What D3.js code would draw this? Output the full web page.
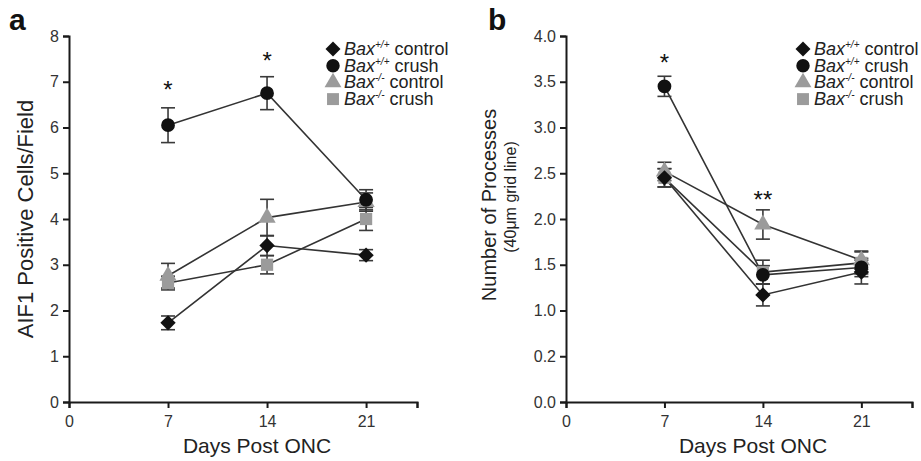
<!DOCTYPE html>
<html>
<head>
<meta charset="utf-8">
<script src="https://cdn.jsdelivr.net/npm/d3@7"></script>
<style>
  body { margin: 0; background: #fff; }
  svg { font-family: "Liberation Sans", Arial, sans-serif; }
</style>
</head>
<body>
<svg id="chart" width="921" height="461"></svg>
<script>
// days post ONC
const days = [7, 14, 21];
const xTicks = [0, 7, 14, 21];

// series names / legend
const seriesKeys = ["wtControl", "wtCrush", "koControl", "koCrush"];
const seriesSup = ["+/+", "+/+", "-/-", "-/-"];
const seriesWord = ["control", "crush", "control", "crush"];

// panel a: AIF1 positive cells / field (mean, sem)
const aWtControl = [1.73, 3.42, 3.21];
const aWtControlErr = [0.15, 0.22, 0.12];
const aWtCrush = [6.05, 6.75, 4.42];
const aWtCrushErr = [0.38, 0.36, 0.22];
const aKoControl = [2.76, 4.03, 4.37];
const aKoControlErr = [0.27, 0.4, 0.2];
const aKoCrush = [2.6, 3.0, 4.0];
const aKoCrushErr = [0.15, 0.2, 0.25];
const aStars = [{ day: 7, y: 6.9, t: "*" }, { day: 14, y: 7.55, t: "*" }];
const aYTicks = [0, 1, 2, 3, 4, 5, 6, 7, 8];

// panel b: number of processes (40um grid line)
const bWtControl = [2.45, 1.17, 1.42];
const bWtControlErr = [0.1, 0.12, 0.13];
const bWtCrush = [3.45, 1.39, 1.47];
const bWtCrushErr = [0.11, 0.1, 0.1];
const bKoControl = [2.52, 1.94, 1.55];
const bKoControlErr = [0.1, 0.16, 0.1];
const bKoCrush = [2.45, 1.42, 1.52];
const bKoCrushErr = [0.1, 0.13, 0.12];
const bStars = [{ day: 7, y: 3.75, t: "*" }, { day: 14, y: 2.25, t: "**" }];
const bYTicks = [0, 0.5, 1, 1.5, 2, 2.5, 3, 3.5, 4];
const bYTickLabels = ["0.0", "0.2", "1.0", "1.5", "2.0", "2.5", "3.0", "3.5", "4.0"];

const svg = d3.select("#chart");
const black = "#111", grey = "#9b9b9b";
const fills = [black, black, grey, grey];
const shapes = [d3.symbolDiamond2, d3.symbolCircle, d3.symbolTriangle, d3.symbolSquare];
const sizes = [150, 150, 130, 150];

function drawPanel(p) {
  const x = d3.scaleLinear().domain([0, 24.6]).range(p.xr);
  const y = d3.scaleLinear().domain(p.yd).range([402, 36]);
  const g = svg.append("g");

  // axes
  const xAxis = g.append("g").attr("transform", `translate(0,${y(0)})`)
    .call(d3.axisBottom(x).tickValues(xTicks.concat([24.6])).tickSize(6).tickPadding(8)
      .tickFormat(d => d > 21 ? "" : d));
  const yAxis = g.append("g").attr("transform", `translate(${x(0)},0)`)
    .call(d3.axisLeft(y).tickValues(p.yTicks).tickSize(6).tickPadding(4)
      .tickFormat((d, i) => p.yLabels ? p.yLabels[i] : d));
  [xAxis, yAxis].forEach(a => {
    a.select(".domain").attr("stroke", "#1a1a1a").attr("stroke-width", 2);
    a.selectAll(".tick line").attr("stroke", "#1a1a1a").attr("stroke-width", 2);
    a.selectAll(".tick text").attr("font-size", 16).attr("fill", "#333")
      .attr("font-family", "Liberation Sans, Arial, sans-serif");
  });

  // lines
  p.series.forEach((s, si) => {
    const pts = days.map((d, i) => [x(d), y(s.v[i])]);
    g.append("path").attr("d", d3.line()(pts))
      .attr("fill", "none").attr("stroke", "#333").attr("stroke-width", 1.6);
  });
  // error bars
  p.series.forEach((s, si) => {
    days.forEach((d, i) => {
      const cx = x(d), lo = y(s.v[i] - s.e[i]), hi = y(s.v[i] + s.e[i]);
      const eb = g.append("g").attr("stroke", "#3a3a3a").attr("stroke-width", 1.6);
      eb.append("line").attr("x1", cx).attr("x2", cx).attr("y1", lo).attr("y2", hi);
      eb.append("line").attr("x1", cx - 7).attr("x2", cx + 7).attr("y1", lo).attr("y2", lo);
      eb.append("line").attr("x1", cx - 7).attr("x2", cx + 7).attr("y1", hi).attr("y2", hi);
    });
  });
  // markers (grey drawn first, black on top)
  [2, 3, 0, 1].forEach(si => {
    const s = p.series[si];
    g.selectAll(null).data(days).join("path")
      .attr("transform", (d, i) => `translate(${x(d)},${y(s.v[i])})`)
      .attr("d", d3.symbol().type(shapes[si]).size(sizes[si]))
      .attr("fill", fills[si]);
  });

  // significance stars
  g.selectAll(null).data(p.stars).join("text")
    .attr("x", d => x(d.day)).attr("y", d => y(d.y) + 12)
    .attr("text-anchor", "middle").attr("font-size", 24).attr("fill", "#111")
    .text(d => d.t);

  // legend
  const lg = g.append("g").attr("transform", `translate(${p.legX},49)`);
  seriesKeys.forEach((k, i) => {
    const row = lg.append("g").attr("transform", `translate(0,${i * 16.7})`);
    row.append("path").attr("d", d3.symbol().type(shapes[i]).size(sizes[i] * 0.95))
      .attr("fill", fills[i]);
    const t = row.append("text").attr("x", 11).attr("y", 6).attr("font-size", 18).attr("fill", "#222");
    t.append("tspan").attr("font-style", "italic").text("Bax");
    t.append("tspan").attr("font-style", "italic").attr("font-size", 10).attr("dy", -7).text(seriesSup[i]);
    t.append("tspan").attr("dy", 7).text(" " + seriesWord[i]);
  });

  // axis titles
  g.append("text").attr("x", (p.xr[0] + p.xr[1]) / 2 + 14).attr("y", 453)
    .attr("text-anchor", "middle").attr("font-size", 21).attr("fill", "#222").text("Days Post ONC");
  p.yTitle(g);

  // panel letter
  g.append("text").attr("x", p.letterX).attr("y", 30).attr("font-size", 30)
    .attr("font-weight", "bold").attr("fill", "#111").text(p.letter);
}

drawPanel({
  xr: [69, 417], yd: [0, 8], yTicks: aYTicks, legX: 333, letter: "a", letterX: 9,
  stars: aStars,
  series: [
    { v: aWtControl, e: aWtControlErr }, { v: aWtCrush, e: aWtCrushErr },
    { v: aKoControl, e: aKoControlErr }, { v: aKoCrush, e: aKoCrushErr }
  ],
  yTitle: g => g.append("text").attr("transform", "translate(33,219) rotate(-90)")
    .attr("text-anchor", "middle").attr("font-size", 22).attr("fill", "#222")
    .text("AIF1 Positive Cells/Field")
});

drawPanel({
  xr: [566, 912], yd: [0, 4], yTicks: bYTicks, yLabels: bYTickLabels, legX: 803, letter: "b", letterX: 488,
  stars: bStars,
  series: [
    { v: bWtControl, e: bWtControlErr }, { v: bWtCrush, e: bWtCrushErr },
    { v: bKoControl, e: bKoControlErr }, { v: bKoCrush, e: bKoCrushErr }
  ],
  yTitle: g => {
    g.append("text").attr("transform", "translate(496,205) rotate(-90)")
      .attr("text-anchor", "middle").attr("font-size", 20).attr("fill", "#222")
      .text("Number of Processes");
    g.append("text").attr("transform", "translate(516,197) rotate(-90)")
      .attr("text-anchor", "middle").attr("font-size", 16).attr("fill", "#222")
      .text("(40μm grid line)");
  }
});
</script>
</body>
</html>
